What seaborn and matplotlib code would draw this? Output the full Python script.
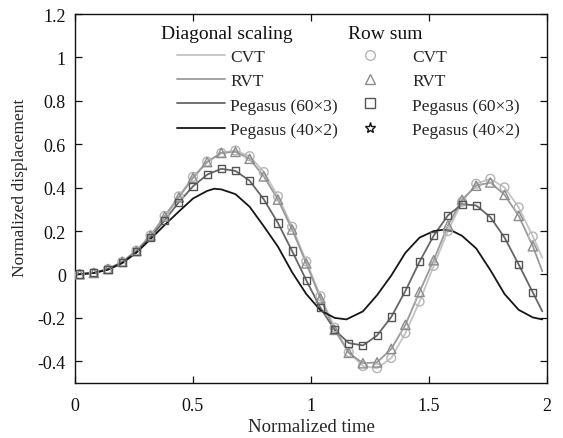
import matplotlib
matplotlib.use("Agg")
import matplotlib.pyplot as plt
import seaborn as sns
import pandas as pd
from matplotlib.lines import Line2D

# ---- data ----
t_mark = [0.02, 0.08, 0.14, 0.20, 0.26, 0.32, 0.38, 0.44, 0.50, 0.56, 0.62,
          0.68, 0.74, 0.80, 0.86, 0.92, 0.98, 1.04, 1.10, 1.16, 1.22, 1.28,
          1.34, 1.40, 1.46, 1.52, 1.58, 1.64, 1.70, 1.76, 1.82, 1.88, 1.94]
t_start = 0.0
t_end = 1.98

cvt = [0.001, 0.007, 0.025, 0.058, 0.110, 0.180, 0.270, 0.360, 0.450, 0.520, 0.560,
       0.571, 0.545, 0.472, 0.360, 0.220, 0.060, -0.100, -0.245, -0.358, -0.422, -0.432,
       -0.385, -0.270, -0.125, 0.040, 0.200, 0.335, 0.418, 0.441, 0.401, 0.309, 0.175]
cvt_ends = [0.0, 0.077]

rvt = [0.001, 0.007, 0.025, 0.058, 0.108, 0.179, 0.267, 0.355, 0.445, 0.518, 0.560,
       0.565, 0.533, 0.452, 0.345, 0.207, 0.051, -0.110, -0.255, -0.361, -0.409, -0.405,
       -0.343, -0.232, -0.080, 0.066, 0.226, 0.344, 0.409, 0.424, 0.367, 0.270, 0.130]
rvt_ends = [0.0, 0.015]

peg60 = [0.002, 0.007, 0.025, 0.056, 0.105, 0.170, 0.250, 0.333, 0.406, 0.460, 0.487,
         0.477, 0.432, 0.346, 0.237, 0.108, -0.027, -0.154, -0.255, -0.316, -0.327, -0.281,
         -0.196, -0.076, 0.059, 0.179, 0.272, 0.324, 0.318, 0.264, 0.170, 0.046, -0.083]
peg60_ends = [0.0, -0.170]

t_peg40 = [0.00, 0.08, 0.14, 0.20, 0.26, 0.32, 0.38, 0.44, 0.50, 0.56, 0.59, 0.62,
           0.68, 0.74, 0.80, 0.86, 0.92, 0.98, 1.04, 1.10, 1.15, 1.22, 1.28, 1.34,
           1.40, 1.46, 1.52, 1.56, 1.60, 1.64, 1.70, 1.76, 1.82, 1.88, 1.94, 1.98]
peg40 = [0.000, 0.007, 0.022, 0.052, 0.100, 0.163, 0.228, 0.290, 0.350, 0.385, 0.395, 0.392,
         0.370, 0.312, 0.222, 0.128, 0.010, -0.090, -0.165, -0.200, -0.207, -0.170, -0.095, -0.005,
         0.100, 0.170, 0.200, 0.206, 0.200, 0.178, 0.120, 0.020, -0.090, -0.163, -0.198, -0.207]

labels = ["CVT", "RVT", "Pegasus (60\u00d73)", "Pegasus (40\u00d72)"]
header_left = "Diagonal scaling"
header_right = "Row sum"
x_ticks = [0, 0.5, 1, 1.5, 2]
x_ticklabels = ["0", "0.5", "1", "1.5", "2"]
y_ticks = [-0.4, -0.2, 0, 0.2, 0.4, 0.6, 0.8, 1.0, 1.2]
y_ticklabels = ["-0.4", "-0.2", "0", "0.2", "0.4", "0.6", "0.8", "1", "1.2"]

# ---- style ----
sns.set_style("ticks")
plt.rcParams["font.family"] = ["Liberation Serif", "DejaVu Serif"]

line_colors = ["#c4c4c4", "#9a9a9a", "#666666", "#161616"]
mark_colors = ["#b4b4b4", "#8c8c8c", "#555555", "#161616"]
markers = ["o", "^", "s", "*"]

fig = plt.figure(figsize=(5.63, 4.39), dpi=100)
ax = fig.add_axes([0.1332, 0.1253, 0.8384, 0.8405])

def line_df(ends, vals):
    return pd.DataFrame({"t": [t_start] + t_mark + [t_end],
                         "v": [ends[0]] + vals + [ends[1]]})

series = [(cvt, cvt_ends), (rvt, rvt_ends), (peg60, peg60_ends)]
for i, (vals, ends) in enumerate(series):
    d = line_df(ends, vals)
    sns.lineplot(data=d, x="t", y="v", ax=ax, color=line_colors[i], lw=1.3,
                 sort=False, estimator=None)
d40 = pd.DataFrame({"t": t_peg40, "v": peg40})
sns.lineplot(data=d40, x="t", y="v", ax=ax, color=line_colors[3], lw=1.3,
             sort=False, estimator=None)

msizes = [40, 45, 26]
for i, vals in enumerate([cvt, rvt, peg60]):
    d = pd.DataFrame({"t": t_mark, "v": vals})
    sns.scatterplot(data=d, x="t", y="v", ax=ax, marker=markers[i], s=msizes[i],
                    facecolors="none", edgecolor=mark_colors[i], linewidth=1.0,
                    zorder=3)

ax.set_xlim(0, 2)
ax.set_ylim(-0.5, 1.2)
ax.set_xticks(x_ticks)
ax.set_xticklabels(x_ticklabels)
ax.set_yticks(y_ticks)
ax.set_yticklabels(y_ticklabels)
ax.tick_params(direction="in", length=5, width=0.9, top=True, right=True,
               labelsize=13, colors="#111111", pad=6.5)
ax.tick_params(axis="x", pad=10)
for s in ax.spines.values():
    s.set_linewidth(1.0)
    s.set_color("#111111")
ax.set_xlabel("Normalized time", fontsize=13.5, labelpad=3)
ax.set_ylabel("Normalized displacement", fontsize=12.5)
ax.yaxis.set_label_coords(-0.099, 0.531)

# ---- legends ----
line_handles = [Line2D([], [], color=line_colors[i], lw=1.3) for i in range(4)]
mark_handles = [Line2D([], [], ls="none", marker=markers[i],
                       markersize=7 if i < 3 else 8,
                       markerfacecolor="none", markeredgecolor=mark_colors[i],
                       markeredgewidth=1.0) for i in range(4)]
leg1 = ax.legend(line_handles, labels, frameon=False,
                 loc="upper left", bbox_to_anchor=(0.197, 0.9285),
                 fontsize=12.5, handlelength=2.8, handletextpad=0.3,
                 labelspacing=0.46, borderpad=0.0)
ax.add_artist(leg1)
leg2 = ax.legend(mark_handles, labels, frameon=False,
                 loc="upper left", bbox_to_anchor=(0.541, 0.9285),
                 fontsize=12.5, handlelength=3.6, handletextpad=0.61,
                 labelspacing=0.46, borderpad=0.0)
ax.text(0.182, 0.97, header_left, transform=ax.transAxes, fontsize=14,
        va="top", ha="left", color="#111111")
ax.text(0.578, 0.97, header_right, transform=ax.transAxes, fontsize=14,
        va="top", ha="left", color="#111111")

fig.savefig("out.png", dpi=100)
